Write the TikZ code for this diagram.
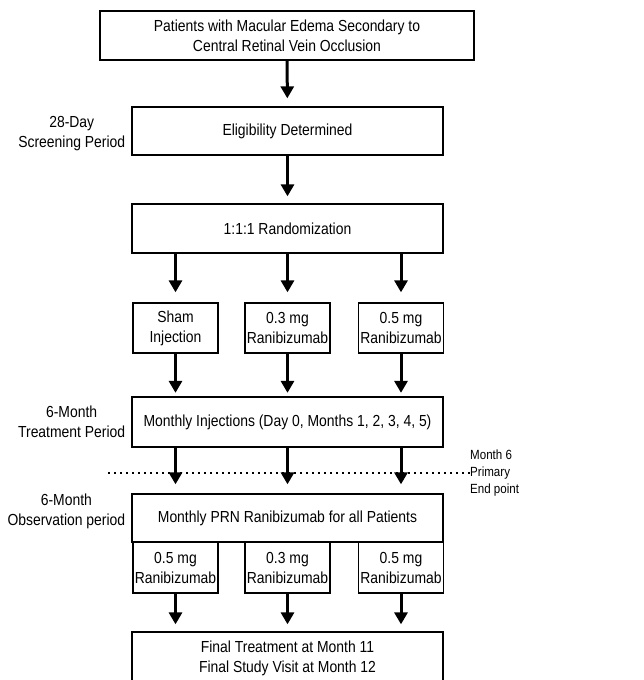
\documentclass[tikz,border=0pt]{standalone}
\usepackage{fontspec}
\setmainfont{Liberation Sans}[FakeStretch=0.87]
\usetikzlibrary{arrows.meta,positioning}
\tikzstyle{arrow} = [line width=3pt,-{Triangle[width=13pt,length=12pt]},shorten >=7pt]
\tikzstyle{mainbox} = [rectangle, draw, line width=1.3pt, minimum width=311pt,
    minimum height=48pt, inner sep=0pt, align=center, font=\fontsize{16}{20}\selectfont]
\tikzstyle{armbox} = [mainbox, minimum width=85pt, minimum height=50pt]
\tikzstyle{side} = [inner sep=0pt, align=center, font=\fontsize{16}{20}\selectfont]
\tikzstyle{endnote} = [inner sep=0pt, align=left, anchor=west, font=\fontsize{13.3}{17}\selectfont]

\begin{document}
\begin{tikzpicture}[x=1pt, y=1pt]
\useasboundingbox (0,0) rectangle (644,-680);
\clip (0,0) rectangle (644,-680);
% main column
\node[mainbox, minimum width=374pt, minimum height=49pt] (patients) at (287,-35.5) {Patients with Macular Edema Secondary to\\Central Retinal Vein Occlusion};
\node[mainbox] (elig) at (287.5,-131) {Eligibility Determined};
\node[mainbox, minimum height=49pt] (rand) at (287.5,-228.5) {1:1:1 Randomization};
\node[armbox] (sham) at (175.5,-328) {Sham\\Injection};
\node[armbox] (low) at (287.5,-328) {0.3 mg\\Ranibizumab};
\node[armbox] (high) at (401,-328) {0.5 mg\\Ranibizumab};
\node[mainbox, minimum height=50pt] (monthly) at (287.5,-422) {Monthly Injections (Day 0, Months 1, 2, 3, 4, 5)};
\node[mainbox] (prn) at (287.5,-518) {Monthly PRN Ranibizumab for all Patients};
\node[armbox, minimum height=51pt] (obssham) at (175.5,-567.5) {0.5 mg\\Ranibizumab};
\node[armbox, minimum height=51pt] (obslow) at (287.5,-567.5) {0.3 mg\\Ranibizumab};
\node[armbox, minimum height=51pt] (obshigh) at (401,-567.5) {0.5 mg\\Ranibizumab};
\node[mainbox, minimum height=52pt] (final) at (287.5,-658) {Final Treatment at Month 11\\Final Study Visit at Month 12};
% period labels
\node[side, left=6pt of elig, yshift=-3pt] (screen) {28-Day\\Screening Period};
\node[side, left=6pt of monthly] (treat) {6-Month\\Treatment Period};
\node[side, left=6pt of prn, yshift=7pt] (observ) {6-Month\\Observation period};
% primary end point
\node[endnote] (endpt) at (470,-473) {Month 6\\Primary\\End point};
\coordinate (dotstart) at (108,-473);
\draw[line width=2.2pt, dash pattern=on 2.2pt off 3.8pt] (dotstart) -- (endpt.west);
% arrows
\draw[arrow, shorten >=8pt] (patients) -- (elig);
\draw[arrow] (elig) -- (rand);
\foreach \arm in {sham,low,high} {
  \draw[arrow, shorten >=10pt] (rand.south -| \arm) -- (\arm);
  \draw[arrow, shorten >=3.5pt] (\arm) -- (monthly.north -| \arm);
  \draw[arrow, shorten >=9pt] (monthly.south -| \arm) -- (prn.north -| \arm);
}
\foreach \arm in {obssham,obslow,obshigh}
  \draw[arrow] (\arm) -- (final.north -| \arm);
\end{tikzpicture}
\end{document}
